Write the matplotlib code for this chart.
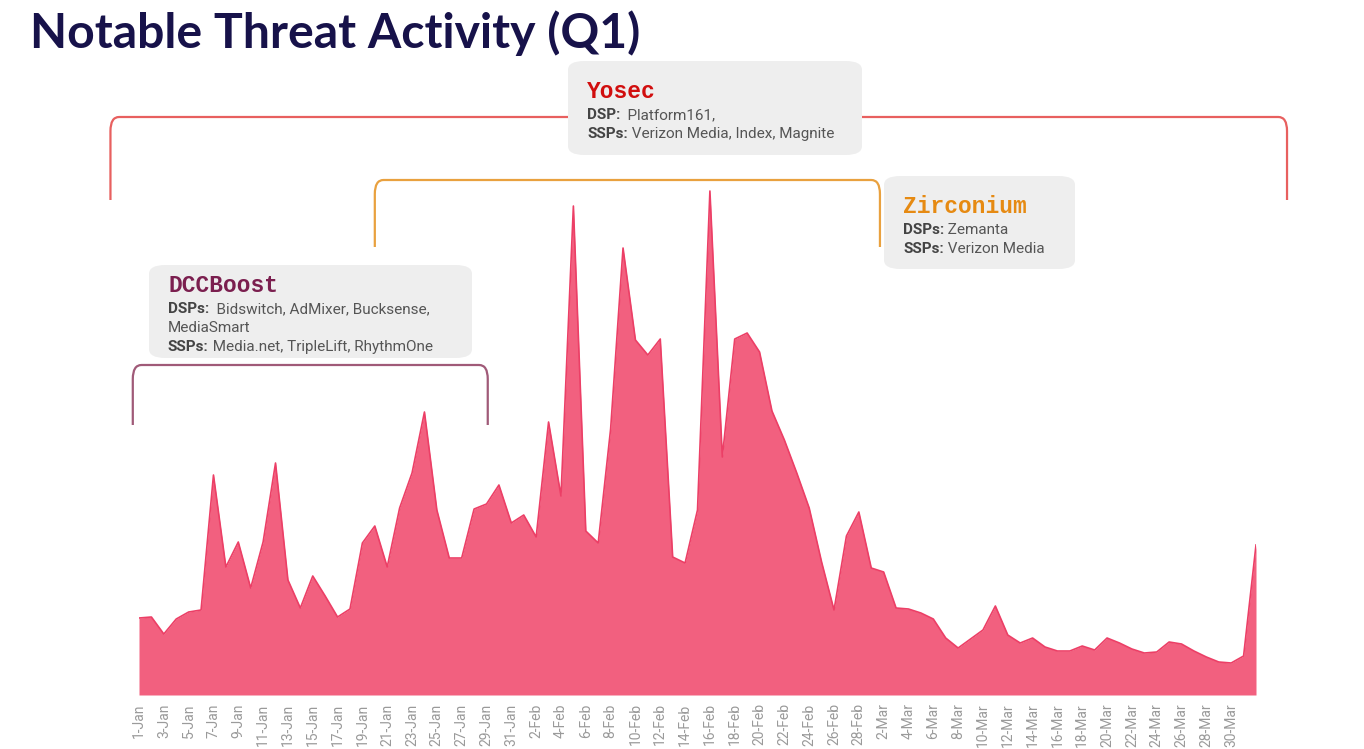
import numpy as np
import matplotlib.pyplot as plt
from matplotlib.path import Path
from matplotlib.patches import PathPatch, FancyBboxPatch

plt.rcParams["font.family"] = ["Roboto", "DejaVu Sans"]

# =====================
# data (daily activity, Q1)
# =====================
jan = [77, 78, 61, 76, 83, 85, 220, 128, 153, 107, 153, 232, 115, 87, 119, 99,
       78, 86, 152, 169, 128, 187, 222, 283, 185, 137, 137, 186, 191, 210, 172]
feb = [180, 158, 273, 199, 489, 164, 152, 266, 447, 355, 340, 356, 138, 132,
       185, 504, 238, 356, 362, 343, 284, 255, 222, 187, 133, 85, 159, 183]
mar = [127, 123, 87, 86, 82, 76, 57, 47, 56, 65, 89, 60, 52, 57, 48, 44,
       44, 49, 45, 57, 52, 46, 42, 43, 53, 51, 44, 38, 33, 32, 39]
apr = [150]

dates = ([f"{d}-Jan" for d in range(1, 32)] + [f"{d}-Feb" for d in range(1, 29)]
         + [f"{d}-Mar" for d in range(1, 32)] + ["1-Apr"])
values = np.array(jan + feb + mar + apr)
x = np.arange(len(values))

# campaigns: (name, colour, first day idx, last day idx, bracket top, bracket bottom)
campaigns = [
    ("Yosec", "#E8605F", -2.3, 92.5, 578, 495),
    ("Zirconium", "#E9A13F", 19.0, 59.7, 515, 448),
    ("DCCBoost", "#A05A78", -0.5, 28.1, 330, 270),
]

W, H = 1364, 749
fig = plt.figure(figsize=(W / 100, H / 100), dpi=100)
ax = fig.add_axes([139 / W, 54 / H, (1256 - 139) / W, 600 / H])

ax.fill_between(x, values, color="#F2607F", linewidth=0, zorder=2)
ax.plot(x, values, color="#EC3F66", linewidth=1.2, zorder=3)

ax.set_xlim(0, len(values) - 1)
ax.set_ylim(0, 600)
ax.set_yticks([])
ticks = list(range(0, 89, 2))
ax.set_xticks(ticks)
ax.set_xticklabels([dates[i] for i in ticks], rotation=90, fontsize=10, color="#9A9A9A")
ax.tick_params(axis="x", length=0, pad=6)
for s in ax.spines.values():
    s.set_visible(False)


# =====================
# brackets over the campaign periods
# =====================
def bracket(x0, x1, top, bottom, color):
    rx, ry = 0.7, 14
    verts = [(x0, bottom), (x0, top - ry), (x0, top), (x0 + rx, top),
             (x1 - rx, top), (x1, top), (x1, top - ry), (x1, bottom)]
    codes = [Path.MOVETO, Path.LINETO, Path.CURVE3, Path.CURVE3,
             Path.LINETO, Path.CURVE3, Path.CURVE3, Path.LINETO]
    ax.add_patch(PathPatch(Path(verts, codes), fill=False, edgecolor=color,
                           linewidth=1.6, clip_on=False, zorder=4))


for name, color, x0, x1, top, bottom in campaigns:
    bracket(x0, x1, top, bottom, color)


# =====================
# info boxes (figure pixel coords)
# =====================
def info_box(left, top, width, height, title, tcolor, lines):
    box = FancyBboxPatch((left / W, 1 - (top + height) / H), width / W, height / H,
                         boxstyle="round,pad=0,rounding_size=0.012",
                         transform=fig.transFigure, facecolor="#EEEEEE",
                         edgecolor="none", zorder=10)
    fig.add_artist(box)
    # content is centred vertically in the box
    first = 37 if len(lines) == 2 else 27
    tx = left + 19
    fig.text(tx / W, 1 - (top + first) / H, title, family="Liberation Mono",
             fontweight="bold", fontsize=16.5, color=tcolor, va="baseline", zorder=11)
    r = fig.canvas.get_renderer()
    for i, (lab, val) in enumerate(lines):
        yb = 1 - (top + first + 21 + i * 18.8) / H
        xv = tx
        if lab:
            t = fig.text(tx / W, yb, lab, fontsize=11, fontweight="bold",
                         color="#444444", va="baseline", zorder=11)
            xv = t.get_window_extent(renderer=r).x1
        fig.text(xv / W, yb, val, fontsize=11, color="#555555",
                 va="baseline", zorder=11)


info_box(568, 61, 294, 94, "Yosec", "#D10E0E",
         [("DSP:", "  Platform161,"), ("SSPs:", " Verizon Media, Index, Magnite")])
info_box(884, 176, 191, 93, "Zirconium", "#E68A12",
         [("DSPs:", " Zemanta"), ("SSPs:", " Verizon Media")])
info_box(149, 265, 323, 93, "DCCBoost", "#7B1F4F",
         [("DSPs:", "  Bidswitch, AdMixer, Bucksense,"), ("", "MediaSmart"),
          ("SSPs:", " Media.net, TripleLift, RhythmOne")])

fig.text(30 / W, 1 - 48 / H, "Notable Threat Activity (Q1)", family="Lato",
         fontweight="bold", fontsize=34.7, color="#17124A", va="baseline")

fig.savefig("out.png", dpi=100)
